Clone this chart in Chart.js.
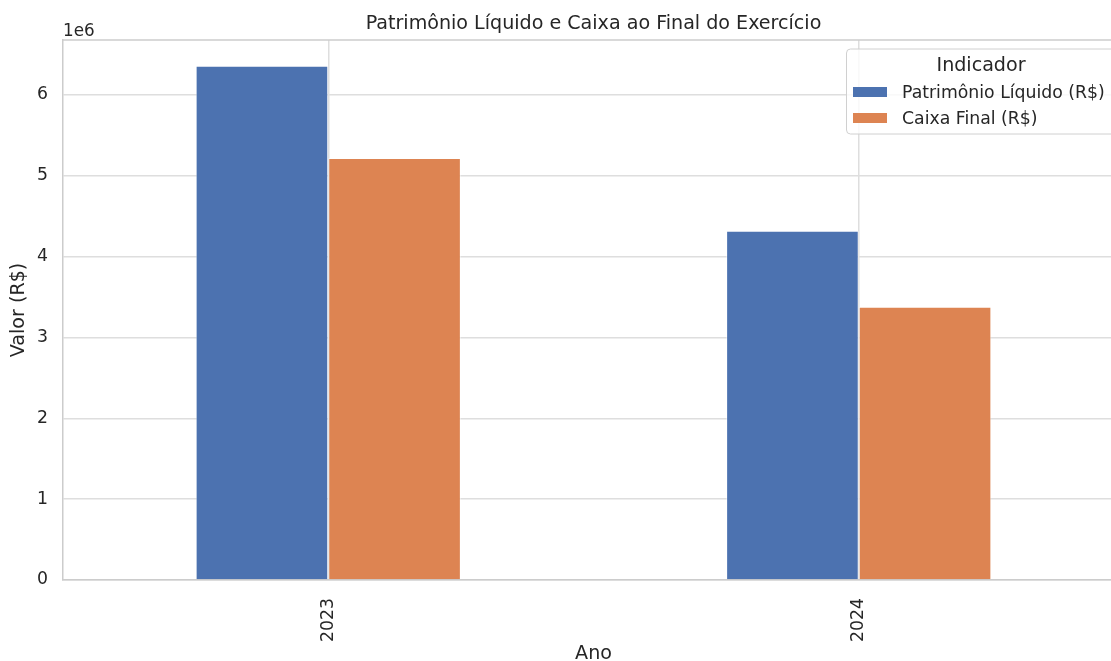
<!DOCTYPE html>
<html>
<head>
<meta charset="utf-8">
<script src="https://cdn.jsdelivr.net/npm/chart.js@4.4.0/dist/chart.umd.min.js"></script>
<style>
  html, body { margin: 0; padding: 0; background: #fff; overflow: hidden; }
  #wrap { position: relative; width: 1130px; height: 670px; }
</style>
</head>
<body>
<div id="wrap"><canvas id="chart"></canvas></div>
<script>
var anos = ['2023', '2024'];
var patrimonioLiquido = [6360000, 4320000];
var caixaFinal = [5220000, 3380000];
var yTicks = [0, 1, 2, 3, 4, 5, 6];

var txt = '#262626';
var fam = '"DejaVu Sans", sans-serif';
var small = 17.3, big = 19.1;

// titulo, 1e6, borda superior e legenda
var extras = {
    id: 'extras',
    afterDatasetsDraw: function (chart) {
        var c = chart.ctx, a = chart.chartArea;
        c.save();
        c.strokeStyle = '#cccccc';
        c.lineWidth = 1.5;
        c.beginPath();
        c.moveTo(a.left, a.top);
        c.lineTo(a.right, a.top);
        c.stroke();

        c.fillStyle = txt;
        c.textAlign = 'center';
        c.textBaseline = 'middle';
        c.font = big + 'px ' + fam;
        c.fillText('Patrimônio Líquido e Caixa ao Final do Exercício', (a.left + a.right) / 2, 24.5);

        c.textAlign = 'left';
        c.textBaseline = 'alphabetic';
        c.font = '16.8px ' + fam;
        c.fillText('1e6', a.left, 35.5);

        // legenda
        var bx = 846.5, by = 49, bw = 272, bh = 85;
        c.fillStyle = 'rgba(255,255,255,0.8)';
        c.strokeStyle = '#d0d0d0';
        c.lineWidth = 1;
        c.beginPath();
        c.roundRect(bx, by, bw, bh, 4);
        c.fill();
        c.stroke();

        c.fillStyle = txt;
        c.textAlign = 'center';
        c.textBaseline = 'middle';
        c.font = big + 'px ' + fam;
        c.fillText('Indicador', 981, 66.5);

        c.textAlign = 'left';
        c.font = small + 'px ' + fam;
        chart.data.datasets.forEach(function (ds, i) {
            var yy = 92 + i * 26;
            c.fillStyle = ds.backgroundColor;
            c.fillRect(853, yy - 5, 34, 10);
            c.fillStyle = txt;
            c.fillText(ds.label, 902, yy + 1.5);
        });
        c.restore();
    }
};

new Chart(document.getElementById('chart'), {
    type: 'bar',
    data: {
        labels: anos,
        datasets: [{
            label: 'Patrimônio Líquido (R$)',
            data: patrimonioLiquido,
            backgroundColor: '#4c72b0',
            borderColor: 'rgba(255,255,255,0.5)',
            borderWidth: 1,
            categoryPercentage: 0.5,
            barPercentage: 1.0
        }, {
            label: 'Caixa Final (R$)',
            data: caixaFinal,
            backgroundColor: '#dd8452',
            borderColor: 'rgba(255,255,255,0.5)',
            borderWidth: 1,
            categoryPercentage: 0.5,
            barPercentage: 1.0
        }]
    },
    options: {
        responsive: true,
        maintainAspectRatio: false,
        animation: false,
        layout: { padding: { top: 40, right: 6, left: 0, bottom: 0 } },
        plugins: {
            legend: { display: false },
            title: { display: false },
            tooltip: { enabled: false }
        },
        scales: {
            x: {
                offset: true,
                grid: { offset: false, color: '#dedede', lineWidth: 1.5, drawTicks: false },
                border: { color: '#cccccc', width: 1.5 },
                ticks: {
                    color: txt, font: { family: fam, size: small },
                    minRotation: 90, maxRotation: 90, padding: 18
                },
                title: {
                    display: true, text: 'Ano', color: txt,
                    font: { family: fam, size: big }, padding: { top: 0, bottom: 4.5 }
                },
                afterFit: function (s) { s.height = 90; }
            },
            y: {
                min: 0,
                max: 6680000,
                grid: { color: '#dedede', lineWidth: 1.5, drawTicks: false },
                border: { color: '#cccccc', width: 1.5 },
                afterBuildTicks: function (s) {
                    s.ticks = yTicks.map(function (v) { return { value: v * 1e6 }; });
                },
                ticks: {
                    color: txt, font: { family: fam, size: small }, padding: 15,
                    callback: function (v) { return v / 1e6; }
                },
                title: {
                    display: true, text: 'Valor (R$)', color: txt,
                    font: { family: fam, size: big }, padding: { top: 7.5, bottom: 0 }
                },
                afterFit: function (s) { s.width = 63; }
            }
        }
    },
    plugins: [extras]
});
</script>
</body>
</html>
